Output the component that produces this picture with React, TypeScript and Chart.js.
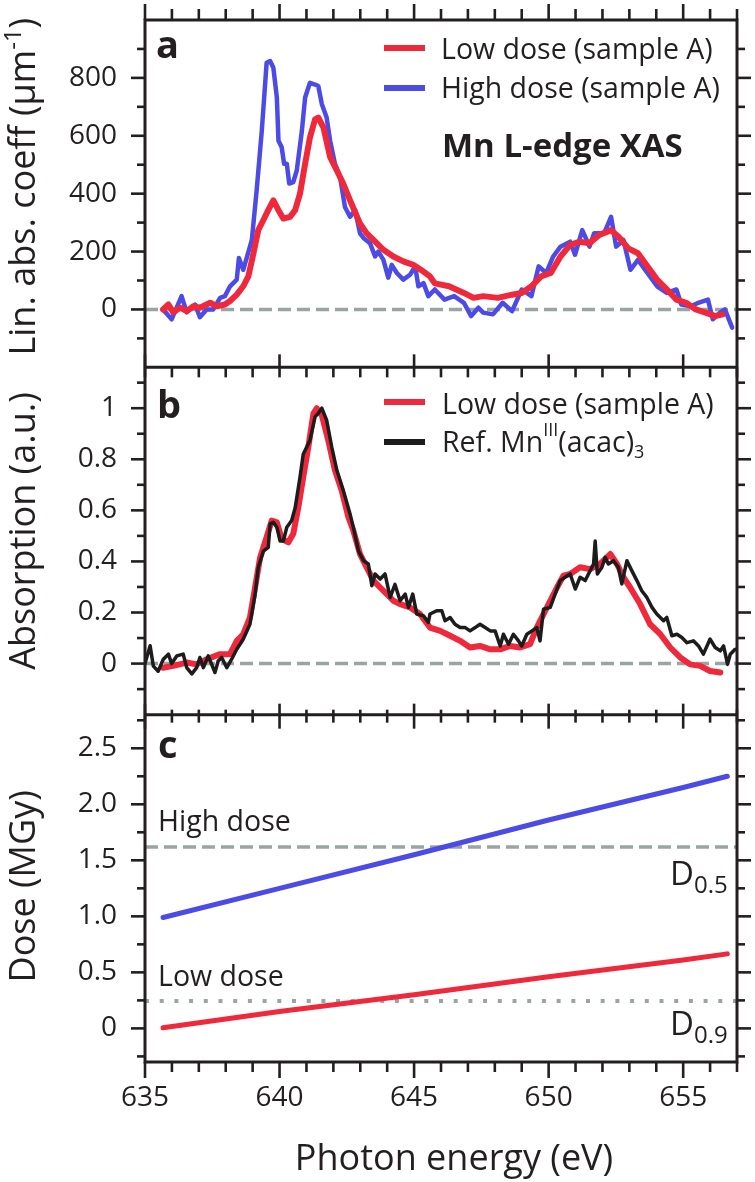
import React, { useEffect, useRef } from 'react';
import { Chart, registerables } from 'chart.js';

Chart.register(...registerables);

const FONT = "'Open Sans', 'DejaVu Sans', sans-serif";
const INK = '#231f20';
const RED = '#f0283c';
const BLUE = '#4d4be6';
const BLACK = '#1c1c1c';
const GREY = '#9aa4a4';

// ---------- panel a : linear absorption coefficient (µm^-1) ----------
const highDoseE = [635.67,635.99,636.36,636.55,636.86,637.04,637.29,637.54,637.79,637.97,638.16,638.41,638.49,638.65,638.83,638.97,639.15,639.34,639.52,639.65,639.77,639.90,639.96,640.08,640.17,640.27,640.36,640.51,640.64,640.83,640.95,641.13,641.32,641.44,641.57,641.75,641.88,642.06,642.25,642.43,642.62,642.81,642.99,643.12,643.36,643.55,643.67,643.86,644.04,644.17,644.36,644.60,644.85,645.04,645.16,645.35,645.53,645.77,646.13,646.49,646.85,647.12,647.39,647.57,647.93,648.29,648.64,649.00,649.36,649.63,649.91,650.17,650.44,650.80,650.98,651.25,651.52,651.69,652.06,652.32,652.51,652.78,653.04,653.32,653.67,654.03,654.39,654.75,654.93,655.29,655.56,655.92,656.10,656.37,656.55,656.82];
const highDoseA = [0,-34,46,-10,17,-27,0,0,40,46,80,103,178,137,195,240,412,617,852,858,835,732,583,560,503,503,435,440,480,617,732,783,777,772,710,663,583,503,457,354,320,343,263,247,229,183,200,171,110,154,126,103,120,149,80,91,46,69,34,46,23,-23,6,-11,-17,23,-6,69,46,149,126,183,217,234,189,274,217,263,263,320,217,240,137,171,126,80,57,69,17,11,23,34,-34,-11,0,-63];

const lowDoseE = [635.67,635.87,636.05,636.30,636.55,636.80,637.04,637.42,637.67,637.97,638.16,638.41,638.65,638.84,639.03,639.21,639.40,639.58,639.77,639.96,640.14,640.39,640.58,640.76,640.95,641.13,641.32,641.44,641.63,641.88,642.13,642.37,642.62,642.99,643.24,643.49,643.86,644.23,644.60,644.97,645.35,645.59,645.77,646.30,646.85,647.21,647.57,648.11,648.64,649.00,649.36,649.72,650.08,650.44,650.80,651.16,651.52,651.88,652.32,652.60,652.96,653.32,653.67,654.03,654.39,654.75,655.11,655.47,655.83,656.19,656.46];
const lowDoseA = [0,17,-10,6,-6,11,6,23,11,17,29,51,80,114,194,274,309,343,377,343,314,320,343,400,503,594,657,663,629,526,480,434,377,297,263,240,206,183,166,154,131,114,90,80,57,40,46,40,51,57,80,114,126,183,223,234,229,257,274,251,211,194,149,103,69,34,23,0,-11,-23,-17];

// ---------- panel b : normalised absorption ----------
const refE = [635.00,635.19,635.31,635.49,635.68,635.87,635.99,636.18,636.42,636.55,636.74,636.92,637.04,637.17,637.35,637.60,637.72,637.85,638.04,638.22,638.41,638.65,638.90,639.09,639.21,639.40,639.58,639.65,639.77,639.90,640.02,640.14,640.27,640.45,640.58,640.76,640.88,641.13,641.32,641.44,641.57,641.75,641.94,642.13,642.37,642.62,642.74,642.93,643.12,643.30,643.43,643.55,643.74,643.92,644.11,644.29,644.48,644.67,644.79,644.95,645.10,645.35,645.53,645.59,645.84,646.03,646.15,646.34,646.52,646.71,646.90,647.08,647.27,647.45,647.64,647.83,648.01,648.20,648.32,648.51,648.69,648.88,649.00,649.19,649.38,649.56,649.68,649.81,650.06,650.24,650.43,650.61,650.80,650.99,651.17,651.36,651.48,651.67,651.73,651.81,651.98,652.10,652.22,652.41,652.59,652.72,652.91,653.09,653.28,653.46,653.65,653.84,654.02,654.27,654.39,654.58,654.77,654.95,655.14,655.38,655.57,655.75,656.00,656.19,656.38,656.50,656.65,656.75,656.93];
const refAbs = [0.00,0.07,-0.01,-0.03,0.017,0.037,0.00,0.03,0.037,-0.016,-0.04,-0.016,0.024,-0.016,0.03,-0.035,0.01,0.024,-0.016,0.017,0.056,0.095,0.154,0.27,0.377,0.44,0.455,0.547,0.553,0.534,0.48,0.48,0.534,0.56,0.61,0.73,0.82,0.874,0.966,0.98,1.0,0.953,0.848,0.757,0.678,0.586,0.534,0.442,0.403,0.39,0.305,0.351,0.331,0.351,0.259,0.31,0.246,0.272,0.22,0.272,0.194,0.187,0.161,0.194,0.207,0.207,0.168,0.18,0.154,0.141,0.141,0.128,0.141,0.154,0.141,0.128,0.128,0.069,0.115,0.076,0.115,0.089,0.069,0.115,0.128,0.141,0.089,0.213,0.22,0.272,0.325,0.338,0.351,0.292,0.338,0.325,0.351,0.39,0.48,0.351,0.377,0.416,0.39,0.403,0.377,0.312,0.403,0.364,0.325,0.285,0.259,0.22,0.194,0.168,0.181,0.109,0.115,0.102,0.082,0.089,0.069,0.037,0.096,0.063,0.05,0.069,-0.003,0.037,0.056];

const lowNormE = [635.67,636.05,636.55,636.92,637.29,637.79,638.16,638.41,638.65,638.90,639.09,639.28,639.52,639.71,639.90,640.08,640.33,640.51,640.70,640.88,641.07,641.26,641.38,641.57,641.81,642.06,642.31,642.56,642.74,642.99,643.24,643.49,643.74,643.99,644.23,644.48,644.85,645.22,645.59,645.97,646.34,646.71,647.08,647.45,647.83,648.20,648.57,648.94,649.31,649.56,649.81,650.06,650.31,650.55,650.80,651.17,651.54,651.91,652.29,652.54,652.78,653.03,653.40,653.77,654.15,654.52,654.89,655.26,655.63,656.00,656.38];
const lowNormAbs = [-0.016,-0.009,0.004,-0.003,0.017,0.037,0.037,0.089,0.115,0.18,0.298,0.416,0.495,0.56,0.553,0.488,0.475,0.508,0.613,0.73,0.848,0.979,1.0,0.973,0.874,0.757,0.678,0.573,0.521,0.429,0.377,0.325,0.298,0.272,0.246,0.233,0.22,0.194,0.141,0.128,0.109,0.089,0.063,0.069,0.056,0.056,0.069,0.063,0.076,0.141,0.194,0.246,0.298,0.344,0.351,0.377,0.37,0.39,0.429,0.39,0.338,0.298,0.233,0.154,0.115,0.063,0.024,-0.003,-0.009,-0.029,-0.035];

// ---------- panel c : dose (MGy) ----------
const doseE = [635.67, 640, 645, 650, 655, 656.64];
const doseHigh = [0.99, 1.25, 1.55, 1.86, 2.15, 2.25];
const doseLow = [0.005, 0.15, 0.30, 0.46, 0.61, 0.665];
const D05 = 1.62;
const D09 = 0.245;

const xRange = [635, 657];
const xTicksLabels = ['635', '640', '645', '650', '655'];

function pts(xs: number[], ys: number[]) {
  return xs.map((x, i) => ({ x, y: ys[i] }));
}
function hline(v: number) {
  return [{ x: xRange[0], y: v }, { x: xRange[1], y: v }];
}

type Seg = { t: string; size: number; dy: number; bold?: boolean };

function segWidth(ctx: CanvasRenderingContext2D, segs: Seg[]) {
  let w = 0;
  for (const s of segs) {
    ctx.font = `${s.bold ? 'bold ' : ''}${s.size}px ${FONT}`;
    w += ctx.measureText(s.t).width;
  }
  return w;
}
function drawSegs(ctx: CanvasRenderingContext2D, segs: Seg[], x: number, y: number) {
  for (const s of segs) {
    ctx.font = `${s.bold ? 'bold ' : ''}${s.size}px ${FONT}`;
    ctx.fillText(s.t, x, y + s.dy);
    x += ctx.measureText(s.t).width;
  }
}
function rotSegs(ctx: CanvasRenderingContext2D, segs: Seg[], bx: number, cy: number) {
  ctx.save();
  ctx.translate(bx, cy);
  ctx.rotate(-Math.PI / 2);
  const w = segWidth(ctx, segs);
  drawSegs(ctx, segs, -w / 2, 0);
  ctx.restore();
}

const framePlugin = {
  id: 'frame',
  afterDraw(chart: any) {
    const ctx: CanvasRenderingContext2D = chart.ctx;
    const { left, right, top, bottom } = chart.chartArea;
    const xs = chart.scales.x;
    const yA = chart.scales.yA, yB = chart.scales.yB, yC = chart.scales.yC;
    const ab = yA.bottom, bc = yB.bottom;
    const seg = (x1: number, y1: number, x2: number, y2: number) => {
      ctx.beginPath(); ctx.moveTo(x1, y1); ctx.lineTo(x2, y2); ctx.stroke();
    };
    ctx.save();
    ctx.strokeStyle = INK;
    ctx.fillStyle = INK;
    ctx.lineCap = 'butt';
    ctx.lineWidth = 3;
    ctx.strokeRect(left, top, right - left, bottom - top);
    seg(left, ab, right, ab);
    seg(left, bc, right, bc);

    ctx.lineWidth = 2.6;
    // x ticks
    for (let e = xRange[0]; e <= xRange[1]; e += 1) {
      const px = xs.getPixelForValue(e);
      if (px > right + 0.5) continue;
      const major = e % 5 === 0;
      if (major) {
        seg(px, top - 16, px, top);
        seg(px, ab - 13, px, ab + 10);
        seg(px, bc - 11, px, bc + 14);
        seg(px, bottom, px, bottom + 16);
      } else {
        seg(px, top - 11, px, top);
        seg(px, ab, px, ab + 10);
        seg(px, bc - 5, px, bc + 8);
        seg(px, bottom, px, bottom + 10);
      }
    }
    // y ticks (minor = half major)
    const specs = [
      { s: yA, min: -200, max: 1000, minor: 100 },
      { s: yB, min: -0.2, max: 1.16, minor: 0.1 },
      { s: yC, min: -0.3, max: 2.8, minor: 0.25 },
    ];
    for (const sp of specs) {
      const k0 = Math.ceil(sp.min / sp.minor - 1e-6);
      const k1 = Math.floor(sp.max / sp.minor + 1e-6);
      for (let k = k0; k <= k1; k++) {
        const py = sp.s.getPixelForValue(k * sp.minor);
        if (py < sp.s.top + 1.5 || py > sp.s.bottom - 1.5) continue;
        const len = k % 2 === 0 ? 14 : 8;
        seg(left - len, py, left, py);
        seg(right, py, right + len, py);
      }
    }

    ctx.textBaseline = 'alphabetic';
    ctx.textAlign = 'left';
    // panel letters
    ctx.font = `bold 38px ${FONT}`;
    ctx.fillText('a', 156, yA.top + 38);
    ctx.fillText('b', 157, yB.top + 51);
    ctx.fillText('c', 158, yC.top + 43);

    // legend a
    ctx.lineWidth = 6;
    ctx.strokeStyle = RED; seg(384, 48, 425, 48);
    ctx.strokeStyle = BLUE; seg(384, 88, 425, 88);
    ctx.font = `28.5px ${FONT}`;
    ctx.fillText('Low dose (sample A)', 441, 59);
    ctx.fillText('High dose (sample A)', 441, 97.5);
    ctx.font = `bold 33px ${FONT}`;
    ctx.fillText('Mn L-edge XAS', 442, 157);

    // legend b
    ctx.strokeStyle = RED; seg(384, 402, 425, 402);
    ctx.strokeStyle = BLACK; seg(384, 442, 425, 442);
    ctx.font = `28.5px ${FONT}`;
    ctx.fillText('Low dose (sample A)', 442, 414);
    drawSegs(ctx, [
      { t: 'Ref. Mn', size: 28.5, dy: 0 },
      { t: 'III', size: 18, dy: -16 },
      { t: '(acac)', size: 28.5, dy: 0 },
      { t: '3', size: 18, dy: 6 },
    ], 442, 452);

    // panel c annotations
    ctx.font = `28.5px ${FONT}`;
    ctx.fillText('High dose', 158, 831);
    ctx.fillText('Low dose', 158, 986);
    drawSegs(ctx, [{ t: 'D', size: 33, dy: 0 }, { t: '0.5', size: 24, dy: 8 }], 670, 885);
    drawSegs(ctx, [{ t: 'D', size: 33, dy: 0 }, { t: '0.9', size: 24, dy: 8 }], 670, 1035);

    // axis titles
    rotSegs(ctx, [
      { t: 'Lin. abs. coeff (μm', size: 36, dy: 0 },
      { t: '-1', size: 24, dy: -14 },
      { t: ')', size: 36, dy: 0 },
    ], 35, (yA.top + yA.bottom) / 2 - 7);
    rotSegs(ctx, [{ t: 'Absorption (a.u.)', size: 36, dy: 0 }], 35, (yB.top + yB.bottom) / 2 - 10);
    rotSegs(ctx, [{ t: 'Dose (MGy)', size: 36, dy: 0 }], 35, (yC.top + yC.bottom) / 2 - 2);
    ctx.font = `36px ${FONT}`;
    ctx.textAlign = 'center';
    ctx.fillText('Photon energy (eV)', (left + right) / 2 + 13, 1170);
    ctx.restore();
  },
};

function line(data: any[], axis: string, color: string, width: number, extra: any = {}) {
  return {
    data,
    xAxisID: 'x',
    yAxisID: axis,
    borderColor: color,
    backgroundColor: color,
    borderWidth: width,
    pointRadius: 0,
    fill: false,
    tension: 0,
    borderJoinStyle: 'round',
    borderCapStyle: 'round',
    ...extra,
  };
}

const tickFont = { family: FONT, size: 28 };

function yAxis(min: number, max: number, step: number, weight: number, fmt: (v: number) => string) {
  return {
    type: 'linear',
    position: 'left',
    stack: 'panels',
    stackWeight: 1,
    weight,
    min,
    max,
    grid: { display: false, drawTicks: true, tickLength: 28 },
    border: { display: false },
    ticks: {
      stepSize: step,
      includeBounds: false,
      padding: 0,
      font: tickFont,
      color: INK,
      autoSkip: false,
      callback: (v: any) => fmt(Number(v)),
    },
    afterFit: (s: any) => { s.width = 145; },
  };
}

export default function App() {
  const ref = useRef<HTMLCanvasElement>(null);
  useEffect(() => {
    const dash = { borderDash: [13, 6], borderCapStyle: 'butt', borderJoinStyle: 'miter' };
    const chart = new Chart(ref.current as HTMLCanvasElement, {
      type: 'line',
      data: {
        datasets: [
          line(pts(lowDoseE, lowDoseA), 'yA', RED, 6),
          line(pts(highDoseE, highDoseA), 'yA', BLUE, 4.5),
          line(pts(refE, refAbs), 'yB', BLACK, 3.5),
          line(pts(lowNormE, lowNormAbs), 'yB', RED, 6),
          line(pts(doseE, doseHigh), 'yC', BLUE, 5),
          line(pts(doseE, doseLow), 'yC', RED, 5),
          line(hline(0), 'yA', GREY, 3.5, dash),
          line(hline(0), 'yB', GREY, 3.5, dash),
          line(hline(D05), 'yC', GREY, 3.5, dash),
          line(hline(D09), 'yC', GREY, 4, { borderDash: [4, 10.7], borderCapStyle: 'butt' }),
        ],
      },
      options: {
        animation: false,
        responsive: false,
        events: [],
        layout: { padding: { left: 0, right: 18, top: 20, bottom: 0 } },
        plugins: { legend: { display: false }, tooltip: { enabled: false } },
        scales: {
          x: {
            type: 'linear',
            position: 'bottom',
            min: xRange[0],
            max: xRange[1],
            grid: { display: false, drawTicks: true, tickLength: 19 },
            border: { display: false },
            ticks: {
              stepSize: 5,
              includeBounds: false,
              padding: 0,
              font: tickFont,
              color: INK,
              maxRotation: 0,
              autoSkip: false,
              callback: (v: any) => {
                const s = String(Number(v));
                return xTicksLabels.includes(s) ? s : '';
              },
            },
            afterFit: (s: any) => { s.height = 120; },
          },
          yC: yAxis(-0.3, 2.8, 0.5, 1, (v) => (v < -1e-9 ? '' : Math.abs(v) < 1e-9 ? '0' : v.toFixed(1))),
          yB: yAxis(-0.2, 1.16, 0.2, 2, (v) => (v < -1e-9 || v > 1.0001 ? '' : String(Math.round(v * 10) / 10))),
          yA: yAxis(-200, 1000, 200, 3, (v) => (v < 0 || v > 800 ? '' : String(Math.round(v)))),
        },
      } as any,
      plugins: [framePlugin],
    } as any);
    return () => chart.destroy();
  }, []);
  return (
    <canvas
      ref={ref}
      width={755}
      height={1182}
      style={{ position: 'absolute', left: 0, top: 0, display: 'block' }}
    />
  );
}
